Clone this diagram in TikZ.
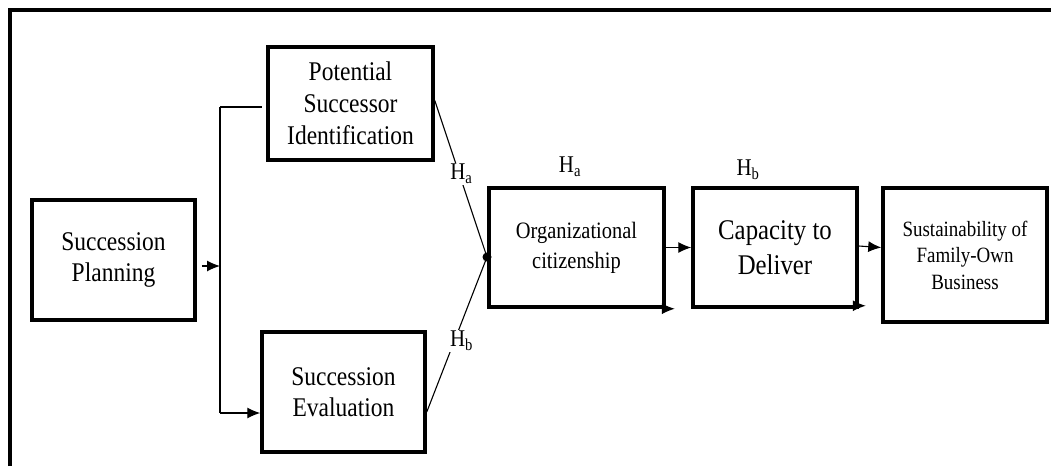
\documentclass[tikz,border=0pt]{standalone}
\usepackage{fontspec}
\setmainfont{Liberation Serif}[FakeStretch=0.87]
\usetikzlibrary{arrows.meta}

\begin{document}
\begin{tikzpicture}[x=1pt,y=-1pt,
    box/.style={draw,line width=3.5pt,align=center,inner sep=0pt},
    link/.style={line width=1.1pt},
    arr/.style={link,-{Latex[length=13pt,width=11pt]}},
    hyp/.style={fill=white,inner sep=1pt,font=\fontsize{24}{26}\selectfont}]
        \useasboundingbox (0,0) rectangle (1051,466);
        % outer frame
        \draw[line width=4pt] (9.5,466) -- (9.5,10) -- (1051,10);

        % left part
        \node[box,minimum width=163pt,minimum height=120pt,font=\fontsize{27}{31.5}\selectfont] (plan) at (113.5,260) {Succession\\Planning};
        \node[box,minimum width=165pt,minimum height=113pt,font=\fontsize{27}{32}\selectfont] (ident) at (350.5,103.5) {Potential\\Successor\\Identification};
        \node[box,minimum width=163pt,minimum height=120pt,font=\fontsize{27}{31.5}\selectfont] (eval) at (343.5,392) {Succession\\Evaluation};
        \coordinate (split) at (220,266);
        \coordinate (top) at (220,107);
        \coordinate (bot) at (220,413);
        \draw[arr] ([xshift=5pt]plan.east |- split) -- (split);
        \draw[link] (top) -- (bot);
        \draw[link] (top) -- ([xshift=-4pt]ident.west |- top);
        \draw[arr] (bot) -- (eval.west |- bot);

        % hypotheses
        \coordinate (join) at (487,257);
        \draw[link] ([yshift=3pt]ident.east) -- node[hyp,pos=0.47,xshift=2pt] {H\textsubscript{a}} (join);
        \draw[link] ([yshift=-20pt]eval.east) -- node[hyp,pos=0.46,xshift=7pt] {H\textsubscript{b}} (join);
        \fill (join) circle (4.5pt);

        % right part
        \node[box,minimum width=175pt,minimum height=119pt,font=\fontsize{23.5}{30}\selectfont] (citizen) at (576.5,247.5) {Organizational\\citizenship};
        \node[box,minimum width=164pt,minimum height=119pt,font=\fontsize{28.5}{35}\selectfont] (deliver) at (775,247.5) {Capacity to\\Deliver};
        \node[box,minimum width=164pt,minimum height=134pt,font=\fontsize{21.8}{26.5}\selectfont] (sustain) at (965,255) {Sustainability of\\Family-Own\\Business};
        \node[font=\fontsize{24}{26}\selectfont] (ha) at (570,167) {H\textsubscript{a}};
        \node[font=\fontsize{24}{26}\selectfont] (hb) at (748,170) {H\textsubscript{b}};
        \draw[arr] (citizen.east) -- (deliver.west);
        \draw[arr] ([yshift=1.5pt]deliver.east) -- (sustain.west |- citizen.east);
        \draw[arr] ([xshift=-6pt]citizen.south east) -- ([xshift=9pt]citizen.south east);
        \draw[arr] ([xshift=-6pt,yshift=3pt]deliver.south east) -- ([xshift=7pt,yshift=3pt]deliver.south east);
      \end{tikzpicture}
\end{document}
